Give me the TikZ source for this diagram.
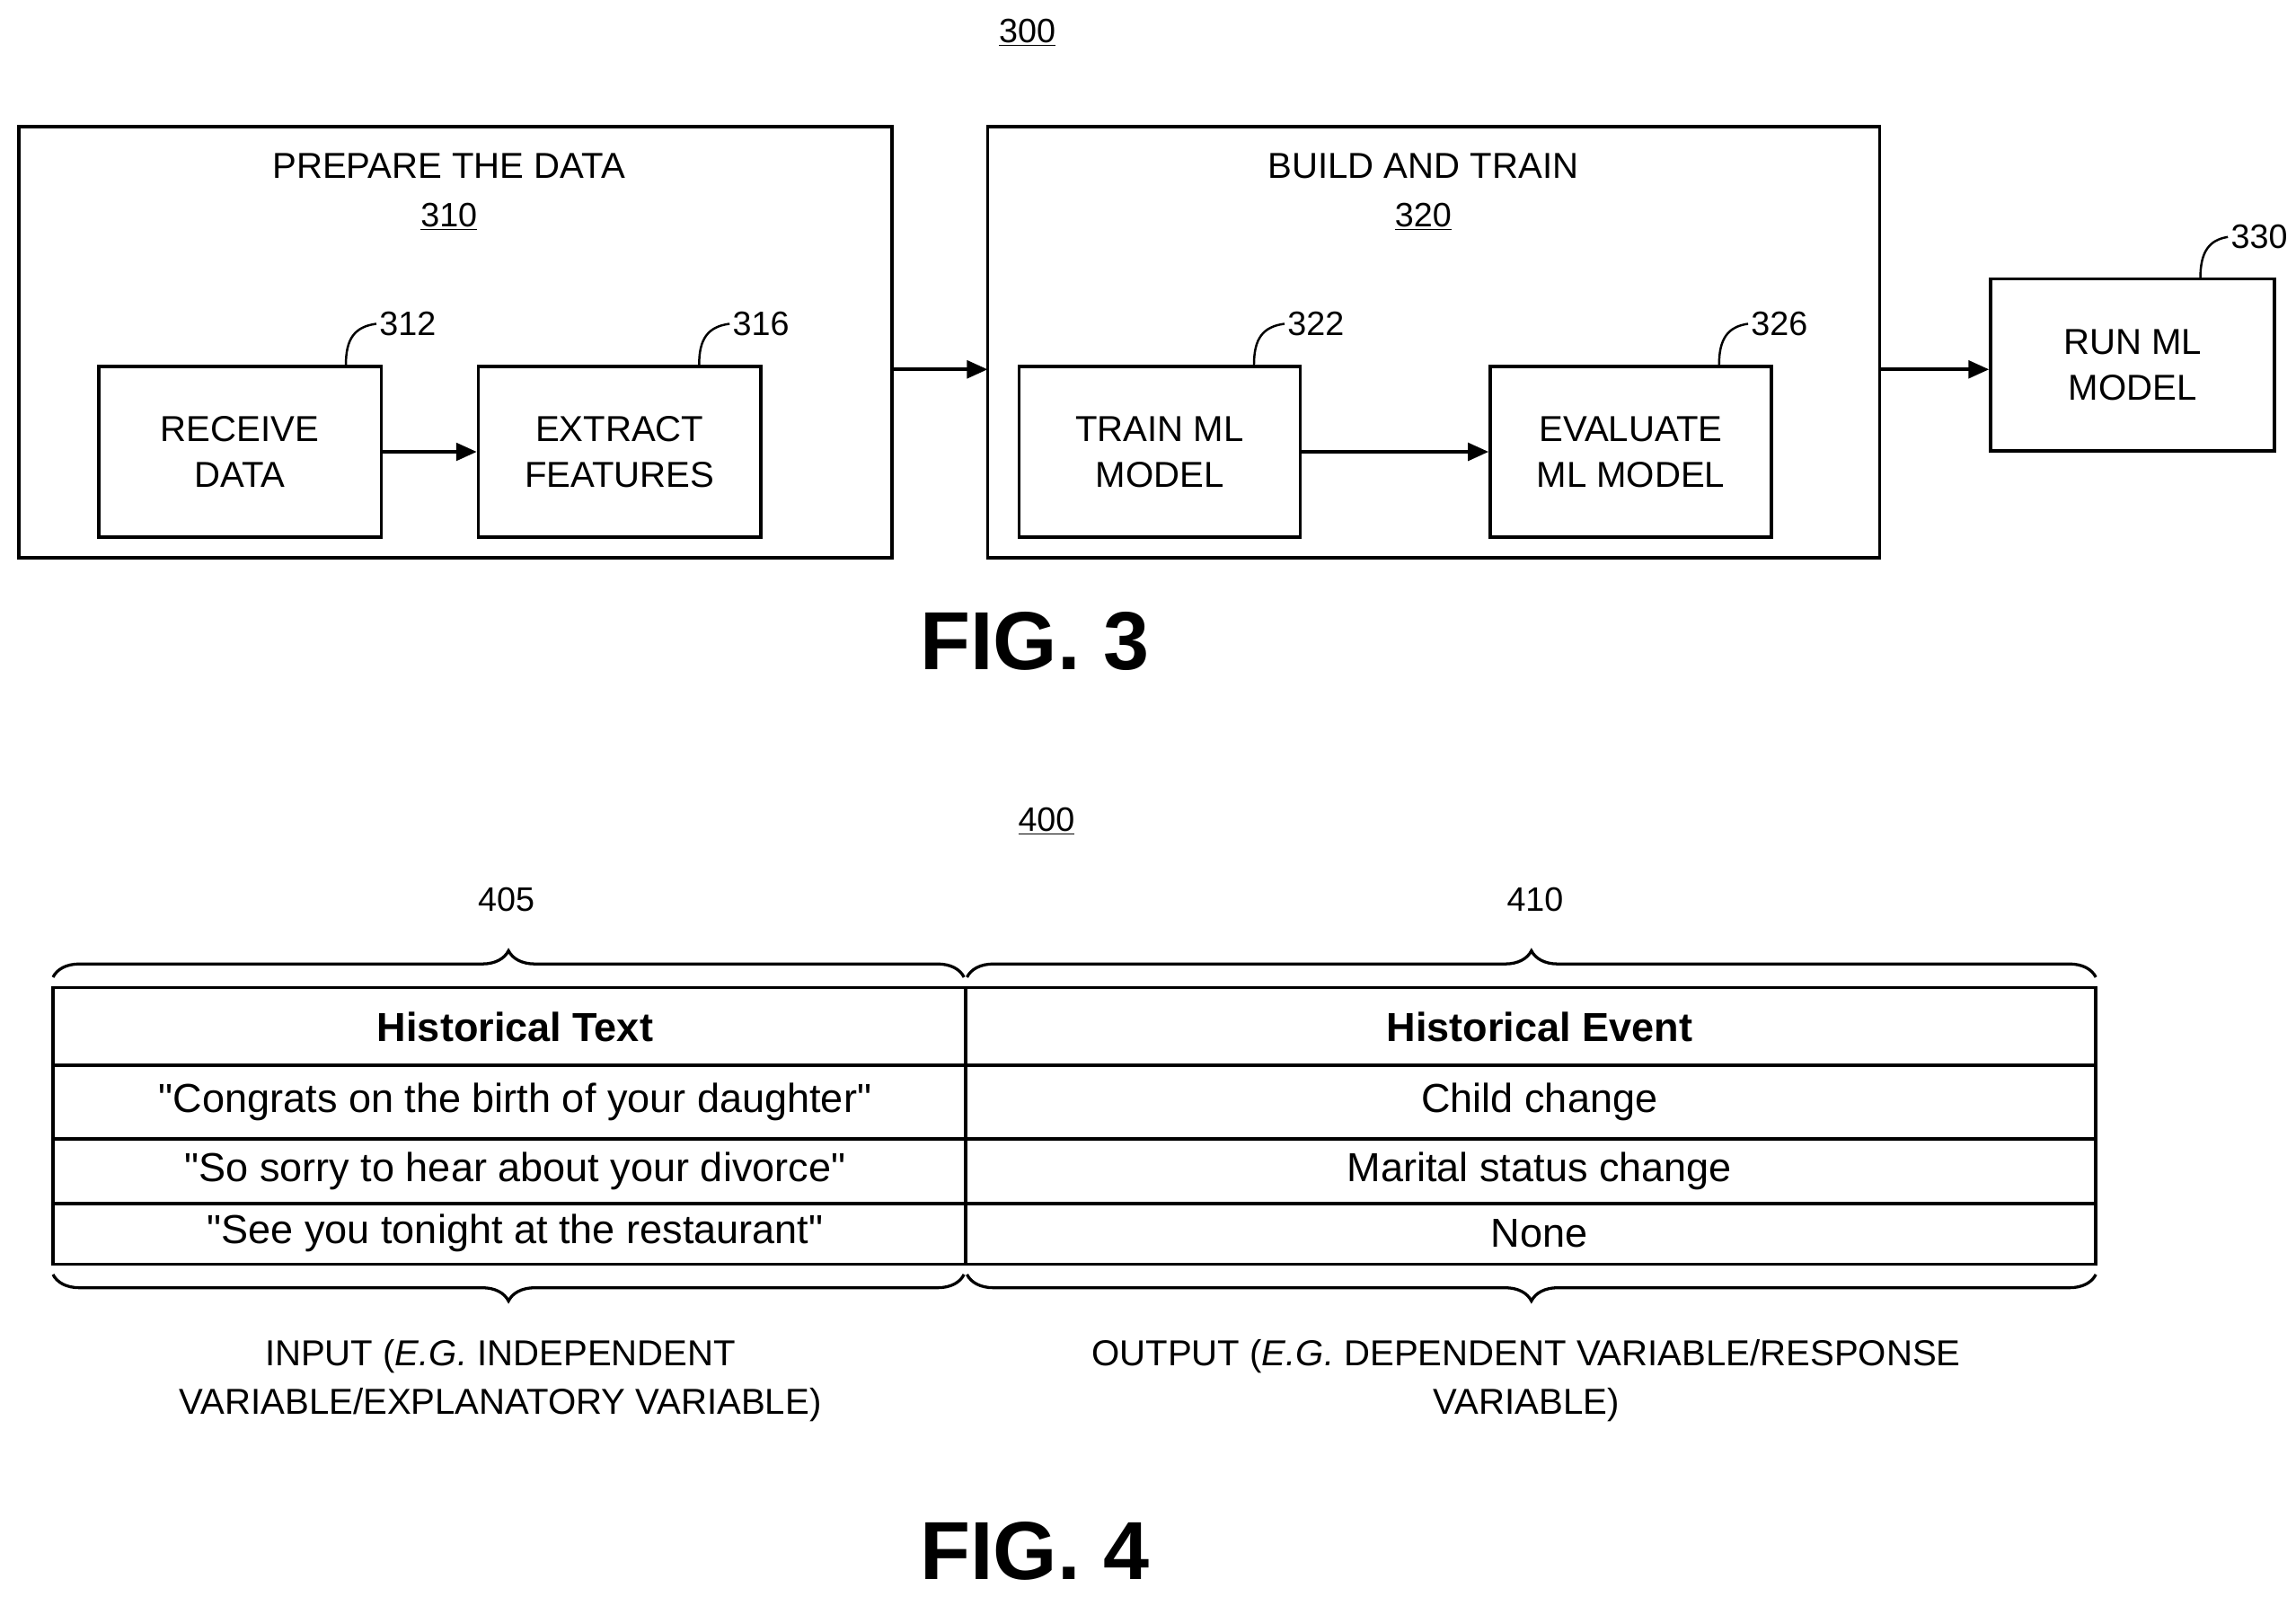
\documentclass[tikz,border=0pt]{standalone}
\usepackage{fontspec}
\setmainfont{Liberation Sans}
\usetikzlibrary{decorations.pathreplacing,arrows.meta}
\newcommand{\qq}{\textquotedbl}
\begin{document}
\begin{tikzpicture}[x=1pt,y=-1pt,line width=2.2pt,
 lbl/.style={font=\fontsize{24.5}{31}\selectfont,align=center,inner sep=0pt},
 num/.style={font=\fontsize{23}{27}\selectfont,inner sep=1pt},
 cell/.style={font=\fontsize{27.5}{32}\selectfont,inner sep=0pt},
 arr/.style={-{Triangle[length=14pt,width=12pt]}},
 br/.style={decorate,decoration={brace,amplitude=18pt},line width=2pt}]
\useasboundingbox (0,0) rectangle (1560,1085);
% FIG 3
\node[num] (n300) at (698,22) {\underline{300}};
\draw (13,86) rectangle (606,379);
\node[lbl] (t310) at (305,113) {PREPARE THE DATA};
\node[num] (n310) at (305,147) {\underline{310}};
\draw (671,86) rectangle (1277,379);
\node[lbl] (t320) at (967,113) {BUILD AND TRAIN};
\node[num] (n320) at (967,147) {\underline{320}};
\node[lbl,draw,line width=2.2pt,minimum width=192pt,minimum height=116pt] (b312) at (163,307) {RECEIVE\\DATA};
\node[lbl,draw,line width=2.2pt,minimum width=192pt,minimum height=116pt] (b316) at (421,307) {EXTRACT\\FEATURES};
\node[lbl,draw,line width=2.2pt,minimum width=191pt,minimum height=116pt] (b322) at (788,307) {TRAIN ML\\MODEL};
\node[lbl,draw,line width=2.2pt,minimum width=191pt,minimum height=116pt] (b326) at (1108,307) {EVALUATE\\ML MODEL};
\node[lbl,draw,line width=2.2pt,minimum width=193pt,minimum height=117pt] (b330) at (1449,248) {RUN ML\\MODEL};
\draw[arr] (b312) -- (b316);
\draw[arr] (b322) -- (b326);
\coordinate (p1) at (606,251); \coordinate (p2) at (671,251);
\draw[arr] (p1) -- (p2);
\coordinate (p3) at (1277,251);
\draw[arr] (p3) -- (b330.west |- p3);
\foreach \b/\t/\x/\y/\lx in {312/312/235/248/277,316/316/475/248/517,322/322/852/248/894,326/326/1168/248/1209,330/330/1495/189/1535}{
  \node[num] (l\b) at (\lx,\y-28) {\t};
  \draw[line width=1.5pt] (\x,\y) .. controls (\x,\y-18) and (\x+6,\y-26) .. (l\b.west);
}
\node[font=\bfseries\fontsize{56}{60}\selectfont] (f3) at (703,436) {FIG. 3};
% FIG 4
\node[num] (n400) at (711,558) {\underline{400}};
\node[num] (n405) at (344,611) {405};
\node[num] (n410) at (1043,611) {410};
\draw[br] (36,664) -- (655,664);
\draw[br] (657,664) -- (1424,664);
\draw (36,671) rectangle (1424,859);
\draw (656,671) -- (656,859);
\foreach \y in {724,774,818} \draw (36,\y) -- (1424,\y);
\node[cell,font=\bfseries\fontsize{27.5}{32}\selectfont] (h1) at (350,698) {Historical Text};
\node[cell,font=\bfseries\fontsize{27.5}{32}\selectfont] (h2) at (1046,698) {Historical Event};
\node[cell] (c11) at (350,749) {\qq Congrats on the birth of your daughter\qq};
\node[cell] (c12) at (1046,749) {Child change};
\node[cell] (c21) at (350,796) {\qq So sorry to hear about your divorce\qq};
\node[cell] (c22) at (1046,796) {Marital status change};
\node[cell] (c31) at (350,838) {\qq See you tonight at the restaurant\qq};
\node[cell] (c32) at (1046,838) {None};
\draw[br] (655,866) -- (36,866);
\draw[br] (1424,866) -- (657,866);
\node[lbl] (in) at (340,938) {INPUT (\textit{E.G.} INDEPENDENT\\[2pt]VARIABLE/EXPLANATORY VARIABLE)};
\node[lbl] (out) at (1037,938) {OUTPUT (\textit{E.G.} DEPENDENT VARIABLE/RESPONSE\\[2pt]VARIABLE)};
\node[font=\bfseries\fontsize{56}{60}\selectfont] (f4) at (703,1054) {FIG. 4};
\end{tikzpicture}
\end{document}
